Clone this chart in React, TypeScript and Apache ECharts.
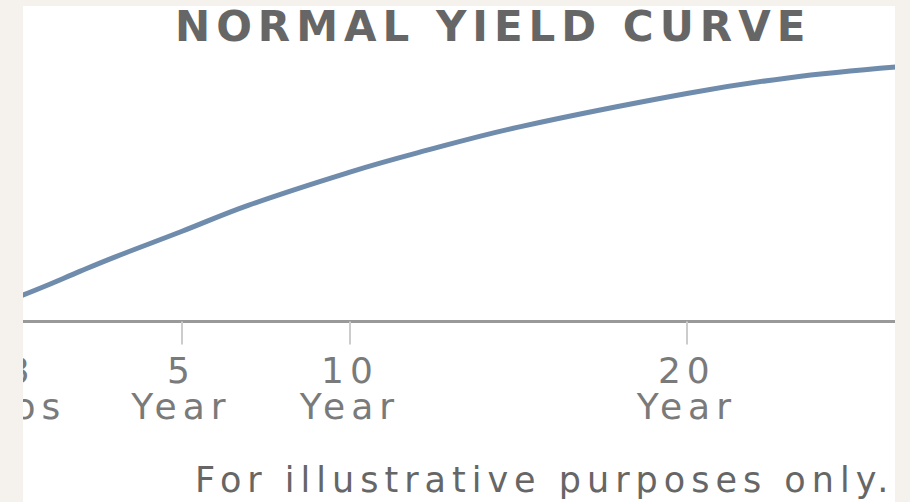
import React, { useEffect, useRef } from "react";
import * as echarts from "echarts";

// Data (maturity in years, yield in %)
const maturities = [0.25, 1, 2, 3, 5, 7, 10, 12, 15, 20, 23, 26.2];
const yields = [0.43, 0.6, 0.84, 1.07, 1.5, 1.94, 2.49, 2.81, 3.24, 3.8, 4.06, 4.24];

const tickValues = [0.25, 5, 10, 20];
const tickLabels = ["3\nMos", "5\nYear", "10\nYear", "20\nYear"];

const titleText = "NORMAL YIELD CURVE";
const footerText = "For illustrative purposes only.";

const BEIGE = "#f5f1ed";

export default function App() {
  const ref = useRef<HTMLDivElement>(null);

  useEffect(() => {
    if (!ref.current) return;
    const chart = echarts.init(ref.current, undefined, { renderer: "svg" });
    const data = maturities.map((m, i) => [m, yields[i]]);
    chart.setOption({
      animation: false,
      backgroundColor: "#ffffff",
      grid: {
        left: 13,
        right: 14.3,
        top: 21.5,
        bottom: 180.5,
        containLabel: false,
        outerBoundsMode: "none",
      },
      xAxis: {
        type: "value",
        min: 0,
        max: 26.2,
        axisLine: { show: true, lineStyle: { color: "#999999", width: 3 } },
        axisTick: {
          show: true,
          customValues: tickValues,
          length: 23,
          lineStyle: { color: "#cccccc", width: 2 },
        },
        axisLabel: {
          show: true,
          customValues: tickValues,
          margin: 30.5,
          lineHeight: 36,
          fontSize: 36,
          fontFamily: "DejaVu Sans",
          color: "#7a7a7a",
          formatter: (v: number) => {
            const i = tickValues.indexOf(v);
            return i >= 0 ? tickLabels[i] : "";
          },
        },
        splitLine: { show: false },
      },
      yAxis: {
        type: "value",
        min: 0,
        max: 5,
        show: false,
        splitLine: { show: false },
      },
      series: [
        {
          type: "line",
          data,
          smooth: 0.4,
          symbol: "none",
          lineStyle: { color: "#708cad", width: 5 },
        },
      ],
      graphic: [
        { type: "rect", z: 100, shape: { x: 0, y: 0, width: 23, height: 502 }, style: { fill: BEIGE } },
        { type: "rect", z: 100, shape: { x: 895, y: 0, width: 15, height: 502 }, style: { fill: BEIGE } },
        { type: "rect", z: 100, shape: { x: 0, y: 0, width: 910, height: 6 }, style: { fill: BEIGE } },
        {
          type: "text",
          z: 101,
          x: 175,
          y: 26,
          style: {
            text: titleText,
            fill: "#666666",
            font: 'bold 42px "DejaVu Sans"',
            textAlign: "left",
            textVerticalAlign: "middle",
          },
        },
        {
          type: "text",
          z: 101,
          x: 195,
          y: 480,
          style: {
            text: footerText,
            fill: "#666666",
            font: '35px "DejaVu Sans"',
            textAlign: "left",
            textVerticalAlign: "middle",
          },
        },
      ],
    });
    return () => chart.dispose();
  }, []);

  return (
    <div
      ref={ref}
      style={{
        position: "fixed",
        left: 0,
        top: 0,
        width: 910,
        height: 502,
        letterSpacing: "6px",
      }}
    />
  );
}
